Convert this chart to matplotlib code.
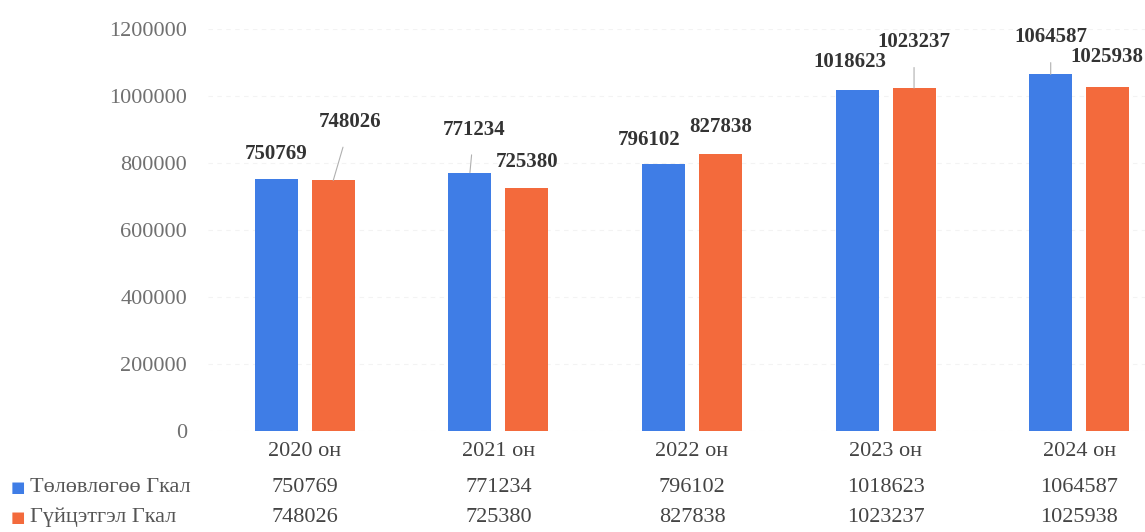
import matplotlib.pyplot as plt
from matplotlib.ticker import FixedLocator
import numpy as np

years = ["2020 он", "2021 он", "2022 он", "2023 он", "2024 он"]
plan = [750769, 771234, 796102, 1018623, 1064587]
actual = [748026, 725380, 827838, 1023237, 1025938]
series_names = ["Төлөвлөгөө Гкал", "Гүйцэтгэл Гкал"]
yticks = [0, 200000, 400000, 600000, 800000, 1000000, 1200000]

# label offsets (pixels from bar top), and whether a leader line is drawn
plan_off = [(0, 25, False), (4, 43, True), (-14, 24, False), (-7, 28, False), (0, 37, True)]
act_off = [(17, 58, True), (0, 26, False), (0, 27, False), (0, 46, True), (-1, 30, False)]

blue = "#3f7de6"
orange = "#f36a3c"
serif = ["Liberation Serif", "DejaVu Serif"]
plt.rcParams["font.family"] = serif

fig = plt.figure(figsize=(11.45, 5.32), dpi=100)
ax = fig.add_axes([208 / 1145, 1 - 431 / 532, 1 - 208 / 1145, (431 - 29) / 532])

x = np.arange(len(years))
w = 0.222
d = 0.147
b1 = ax.bar(x - d, plan, w, color=blue)
b2 = ax.bar(x + d, actual, w, color=orange)

ax.set_xlim(-0.5, 4.34)
ax.set_ylim(0, 1200000)
ax.yaxis.set_major_locator(FixedLocator(yticks))
ax.set_yticklabels([str(v) for v in yticks], fontsize=16, color="#707070")
ax.tick_params(axis="y", length=0, pad=15)
ax.set_xticks([])
for s in ax.spines.values():
    s.set_visible(False)
ax.grid(axis="y", color="#f3f3f3", lw=0.8, ls=(0, (4, 4)))
ax.set_axisbelow(True)

for vals, offs, xs in [(plan, plan_off, x - d), (actual, act_off, x + d)]:
    for xi, v, (dx, dy, lead) in zip(xs, vals, offs):
        ax.annotate(str(v), xy=(xi, v), xytext=(dx, dy), textcoords="offset pixels",
                    ha="center", va="center", fontsize=15, fontweight="bold",
                    color="#333333", annotation_clip=False,
                    arrowprops=dict(arrowstyle="-", color="#b0b0b0", lw=0.8,
                                    shrinkA=9, shrinkB=0) if lead else None)

# data table under the chart
tr = ax.get_xaxis_transform()
for i, yl in enumerate(years):
    ax.text(i, -(452 - 431) / 402, yl, transform=tr, ha="center", va="center",
            fontsize=16, color="#444444", clip_on=False)
for row, (vals, col, name) in enumerate([(plan, blue, series_names[0]),
                                          (actual, orange, series_names[1])]):
    yy = -((487 if row == 0 else 517) - 431) / 402
    for i, v in enumerate(vals):
        ax.text(i, yy, str(v), transform=tr, ha="center", va="center",
                fontsize=16, color="#444444", clip_on=False)
    fy = 1 - (487 if row == 0 else 517) / 532
    fig.text(11 / 1145, fy, "■", color=col, fontsize=11, va="center", ha="left",
             family=["DejaVu Sans"])
    fig.text(30 / 1145, fy, name, color="#555555", fontsize=16, va="center", ha="left")

fig.savefig("out.png", dpi=100)
